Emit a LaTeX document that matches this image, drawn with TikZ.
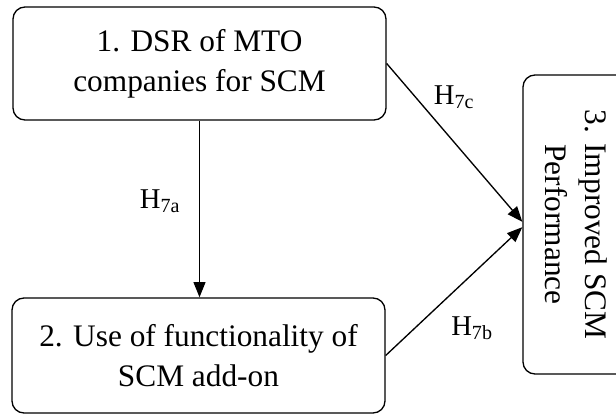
\documentclass[tikz,border=0pt]{standalone}
\usepackage{fontspec}
\setmainfont{Liberation Serif}
\usetikzlibrary{arrows.meta,positioning}

\begin{document}
\begin{tikzpicture}[
      x=0.75pt, y=-0.75pt,
      every node/.style={font=\fontsize{23.5}{30}\selectfont},
      construct/.style={
        draw,
        line width=1pt,
        rounded corners=9pt,
        align=center,
        inner sep=0pt
      },
      path link/.style={
        line width=1pt,
        -{Triangle[length=11.5pt,width=9pt]}
      },
      hyp label/.style={font=\fontsize{21.5}{25}\selectfont, inner sep=1pt},
  ]
  \useasboundingbox (0,0) rectangle (616,417);

  % constructs
  \node[construct, minimum width=279.75pt, minimum height=84.75pt] (dsr) at (199.5,63.5)
    {1. DSR of MTO\\companies for SCM};
  \node[construct, minimum width=279.75pt, minimum height=86.25pt] (use) at (198.5,355.5)
    {2. Use of functionality of\\SCM add-on};
  \node[construct, rotate=-90, minimum width=224.25pt, minimum height=80.25pt] (perf) at (576.5,224.5)
    {3. Improved SCM\\Performance};

  % hypotheses
  \draw[path link] (dsr.south) -- (dsr.south |- use.north);
  \draw[path link] (dsr.east) -- ([yshift=2pt]perf.south);
  \draw[path link] (use.east) -- ([yshift=-2pt]perf.south);

  \node[hyp label] (h7a) at (160,201) {H\textsubscript{7a}};
  \node[hyp label] (h7c) at (454,97) {H\textsubscript{7c}};
  \node[hyp label] (h7b) at (472,328) {H\textsubscript{7b}};
\end{tikzpicture}
\end{document}
